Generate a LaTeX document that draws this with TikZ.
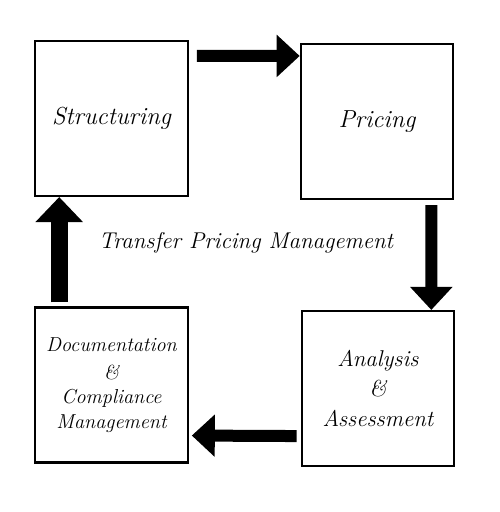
\documentclass[tikz,border=0pt]{standalone}
\usetikzlibrary{arrows.meta}

\begin{document}
\begin{tikzpicture}[color=black,
    stage/.style={draw, line width=1.2pt, minimum width=3.05cm, minimum height=3.1cm,
      text width=2.8cm, align=center, font=\fontsize{14}{17}\selectfont\itshape},
    flow/.style={line width=0.24cm, -{Triangle[length=0.46cm, width=0.82cm]}}]
  \useasboundingbox (0,0) rectangle (10,10.24);
  % The four stages
  \node[stage] (struct) at (2.23,7.87) {Structuring\\[6pt]};
  \node[stage] (price) at (7.54,7.81) {Pricing\\[6pt]};
  \node[stage, font=\fontsize{13}{17}\selectfont\itshape] (assess) at (7.56,2.47)
    {Analysis\\ \&\\ Assessment};
  \node[stage, font=\fontsize{11.5}{14}\selectfont\itshape] (docu) at (2.23,2.54)
    {Documentation\\[2pt] \&\\ Compliance\\ Management};
  % Title in the middle of the cycle
  \node[font=\fontsize{13}{16}\selectfont\itshape] (title) at (4.92,5.38) {Transfer Pricing Management};
  % Thick arrows, clockwise
  \draw[flow] ([shift={(0.16,-0.32)}]struct.north east) -- ([yshift=-0.26cm]price.north west);
  \draw[flow] ([shift={(-0.46,-0.10)}]price.south east) -- ([xshift=-0.48cm]assess.north east);
  \draw[flow] ([shift={(-0.08,0.62)}]assess.south west) -- ([shift={(0.06,0.56)}]docu.south east);
  \draw[flow, line width=0.34cm, -{Triangle[length=0.5cm, width=0.92cm]}]
    ([shift={(0.50,0.08)}]docu.north west) -- ([xshift=0.50cm]struct.south west);
\end{tikzpicture}
\end{document}
